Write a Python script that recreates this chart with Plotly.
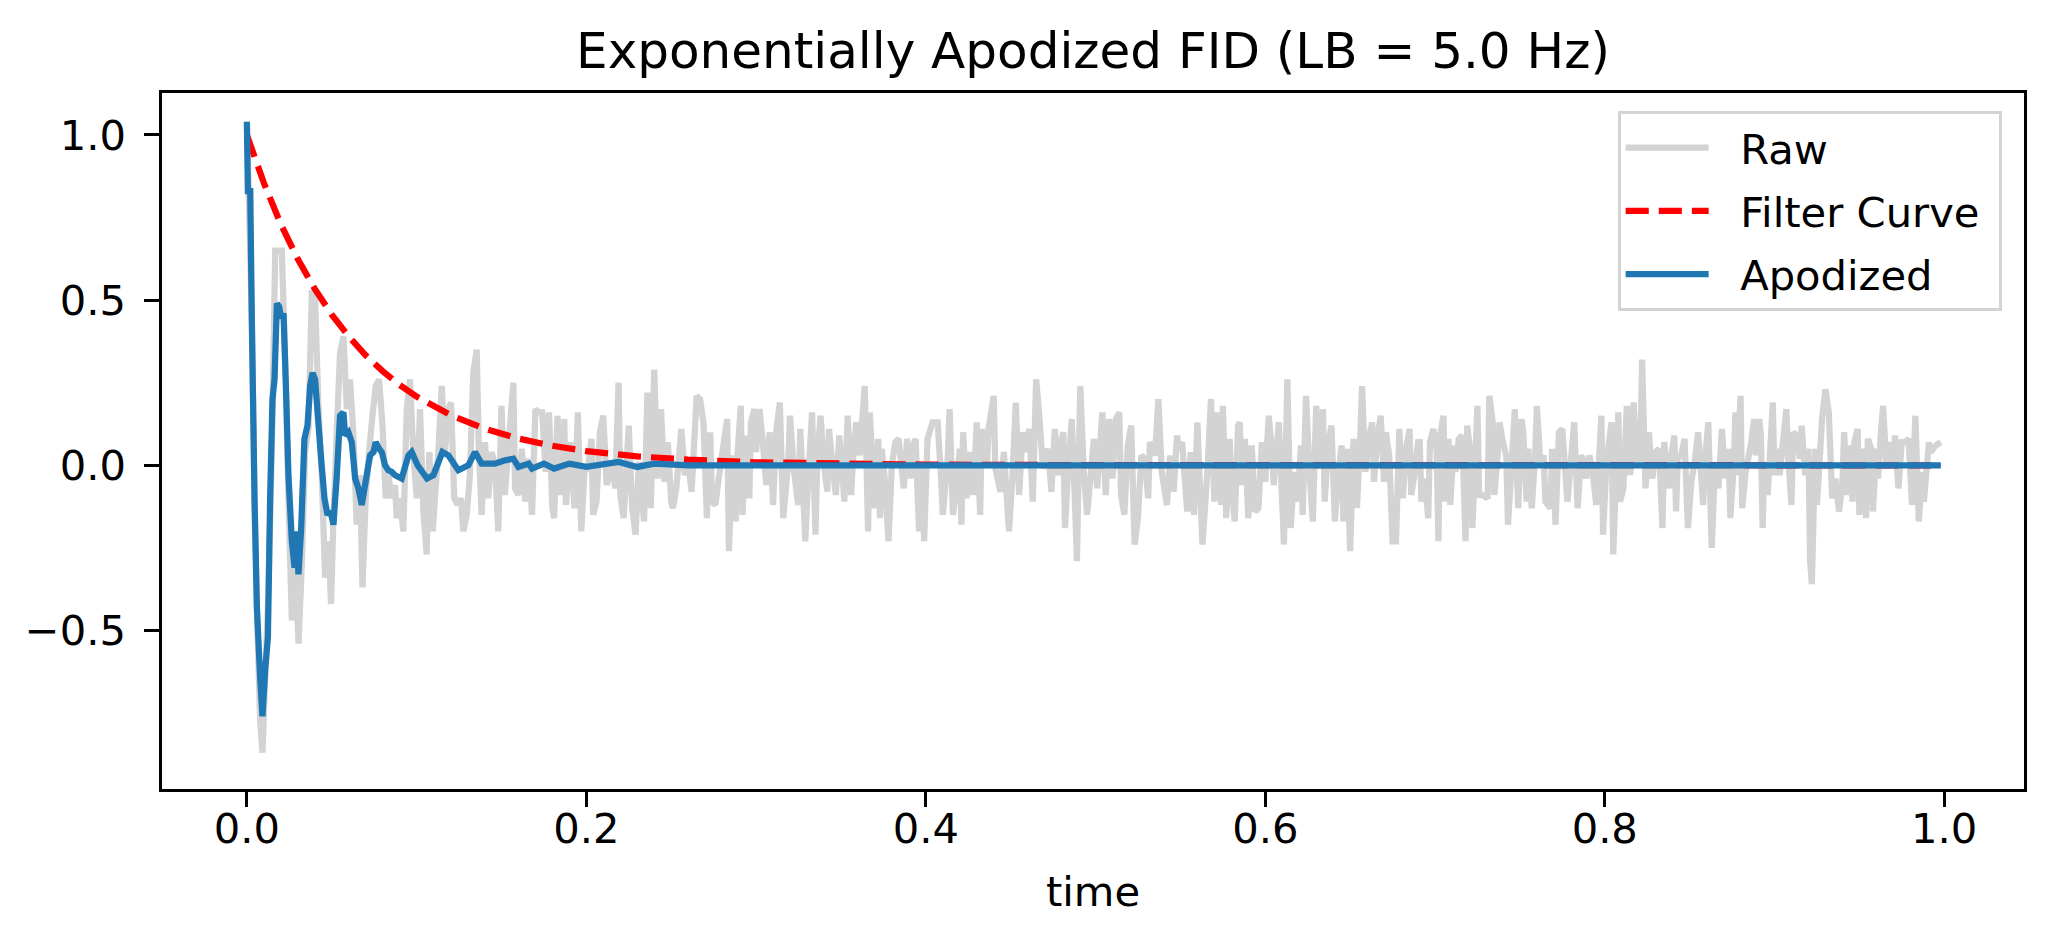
import plotly.graph_objects as go

# raw FID (gray)
raw_t_a = [0.0, 0.001, 0.0029, 0.0045, 0.0059, 0.0078, 0.0092, 0.0108, 0.0128, 0.0147,
           0.0167, 0.0186, 0.0206, 0.0226, 0.0245, 0.0265, 0.0284, 0.0304, 0.0324, 0.0343,
           0.0363, 0.0383, 0.0402, 0.0422, 0.0441, 0.0461, 0.0481, 0.0496, 0.051, 0.053,
           0.0549, 0.0569, 0.0589, 0.0608, 0.0628, 0.0647, 0.0667, 0.0681, 0.07, 0.072,
           0.074, 0.0759, 0.0779, 0.0799, 0.0818, 0.0834, 0.0853, 0.0873, 0.0883, 0.0902,
           0.0922, 0.0942, 0.0961, 0.0981, 0.1001, 0.102, 0.104, 0.1059, 0.1075, 0.1095,
           0.1108, 0.1128, 0.1148, 0.1167, 0.1187, 0.1203, 0.1222, 0.1242, 0.1262, 0.1275,
           0.1295, 0.1314, 0.1334, 0.1354, 0.1367, 0.1383, 0.1403, 0.1422, 0.1442, 0.1462, 0.1481]
raw_v_a = [1.04, 0.85, 0.45, -0.10, -0.43, -0.77, -0.87, -0.64, -0.37, 0.04,
           0.65, 0.65, 0.65, 0.31, -0.10, -0.47, -0.23, -0.54, -0.30, 0.04,
           0.11, 0.53, 0.50, 0.17, -0.03, -0.34, -0.23, -0.42, -0.16, 0.11,
           0.34, 0.39, 0.17, 0.26, 0.09, -0.18, -0.03, -0.37, -0.10, 0.04,
           0.15, 0.24, 0.26, 0.12, -0.10, -0.03, -0.10, -0.06, -0.16, -0.10,
           -0.20, 0.17, 0.26, 0.03, -0.10, 0.17, -0.14, -0.27, 0.04, -0.20,
           -0.10, 0.04, 0.24, 0.04, 0.17, 0.19, -0.10, -0.12, -0.10, -0.20,
           -0.15, -0.03, 0.28, 0.35, 0.04, -0.15, 0.07, -0.10, 0.04, 0.00, -0.20]

raw_t_b = [0.150, 0.152, 0.157, 0.158, 0.160, 0.162, 0.164, 0.166, 0.168, 0.170,
           0.172, 0.174, 0.176, 0.178, 0.180, 0.181, 0.183, 0.185, 0.187, 0.188,
           0.191, 0.193, 0.195, 0.197, 0.199, 0.201, 0.203, 0.204, 0.206, 0.208,
           0.210, 0.212, 0.215, 0.217, 0.219, 0.220, 0.222, 0.225, 0.227, 0.229,
           0.231, 0.234, 0.236, 0.238, 0.240, 0.242, 0.244, 0.246, 0.248, 0.250,
           0.251, 0.253, 0.256, 0.258, 0.260, 0.262, 0.265]
raw_v_b = [0.18, -0.09, 0.25, -0.07, -0.09, 0.05, -0.11, 0.02, -0.15, 0.17,
           0.16, 0.16, -0.02, 0.16, -0.13, -0.16, 0.15, -0.09, 0.14, -0.12,
           0.07, -0.13, 0.16, -0.20, -0.01, -0.01, 0.08, -0.15, -0.11, 0.10,
           0.15, -0.06, 0.01, -0.07, 0.25, -0.09, -0.16, 0.12, -0.13, -0.21,
           0.01, -0.17, 0.22, -0.13, 0.29, -0.04, 0.17, -0.05, 0.07, -0.11,
           -0.13, -0.07, 0.11, -0.03, 0.01, -0.08, 0.21]

raw_t_c = [0.267, 0.269, 0.271, 0.273, 0.274, 0.276, 0.278, 0.281, 0.283, 0.284,
           0.286, 0.288, 0.289, 0.291, 0.292, 0.294, 0.296, 0.297, 0.299, 0.300,
           0.302, 0.304, 0.306, 0.308, 0.310, 0.312, 0.314, 0.316, 0.319, 0.320,
           0.322, 0.324, 0.325, 0.326, 0.327, 0.329, 0.331, 0.333, 0.335, 0.336,
           0.338, 0.340, 0.342, 0.343, 0.345, 0.347, 0.349, 0.351, 0.352, 0.354,
           0.356, 0.357, 0.359, 0.361, 0.364, 0.366, 0.367, 0.370, 0.372]
raw_v_c = [0.20, 0.13, -0.16, 0.10, -0.11, -0.12, -0.04, 0.07, 0.14, -0.26,
           0.03, -0.17, 0.03, 0.18, -0.15, 0.09, -0.10, 0.13, 0.17, 0.04,
           0.17, 0.07, -0.06, 0.10, -0.12, 0.11, 0.19, -0.16, 0.01, 0.15,
           0.00, -0.09, -0.12, 0.11, 0.01, -0.23, -0.01, 0.16, -0.21, 0.01,
           0.15, 0.00, -0.08, 0.11, 0.00, -0.09, 0.09, -0.03, -0.11, 0.15,
           -0.09, 0.01, 0.13, 0.03, 0.24, -0.20, 0.16, -0.13, 0.08]

raw_t_d = [0.373, 0.374, 0.376, 0.378, 0.380, 0.382, 0.384, 0.387, 0.389, 0.391,
           0.392, 0.394, 0.396, 0.398, 0.399, 0.401, 0.404, 0.407, 0.409, 0.410,
           0.413, 0.414, 0.416, 0.418, 0.420, 0.421, 0.422, 0.424, 0.426, 0.428,
           0.430, 0.432, 0.433, 0.436, 0.437, 0.440, 0.441, 0.444, 0.446, 0.449,
           0.451, 0.453, 0.455, 0.457, 0.459, 0.461, 0.463, 0.465, 0.467, 0.469,
           0.472, 0.474, 0.476, 0.478]
raw_v_d = [-0.16, 0.05, -0.05, -0.23, 0.00, 0.07, 0.08, -0.07, 0.08, -0.04,
           0.05, 0.08, -0.20, 0.01, -0.23, 0.08, 0.13, 0.13, -0.04, -0.15,
           0.03, 0.17, -0.15, -0.07, 0.05, -0.18, 0.10, -0.10, 0.04, -0.09,
           0.13, -0.15, 0.11, 0.00, 0.11, 0.21, -0.01, -0.08, 0.04, -0.20,
           -0.04, 0.19, -0.09, 0.10, 0.04, 0.11, -0.11, 0.26, 0.14, -0.01,
           0.05, -0.08, 0.11, -0.03]

raw_t_e = [0.479, 0.481, 0.482, 0.484, 0.486, 0.488, 0.489, 0.491, 0.493, 0.495,
           0.497, 0.499, 0.501, 0.504, 0.506, 0.508, 0.510, 0.512, 0.514, 0.515,
           0.517, 0.519, 0.521, 0.523, 0.525, 0.527, 0.529, 0.531, 0.532, 0.535,
           0.537, 0.539, 0.542, 0.544, 0.546, 0.548, 0.549, 0.551, 0.554, 0.556,
           0.558, 0.560, 0.561, 0.563, 0.566, 0.568, 0.570, 0.572, 0.574, 0.575,
           0.577, 0.579, 0.580, 0.582, 0.584]
raw_v_e = [0.05, 0.10, -0.19, 0.00, 0.14, -0.13, -0.29, 0.24, -0.01, -0.15,
           -0.04, 0.08, -0.07, 0.16, -0.09, 0.14, -0.04, 0.14, 0.16, -0.09,
           -0.15, 0.06, 0.12, -0.24, -0.16, 0.03, 0.02, -0.10, 0.07, 0.03,
           0.20, -0.02, -0.12, 0.03, -0.08, 0.09, 0.05, 0.07, -0.14, 0.04,
           -0.15, 0.13, 0.00, -0.24, -0.01, 0.20, -0.11, 0.16, -0.12, 0.18,
           -0.16, 0.08, -0.05, -0.17, 0.12]

raw_t_f = [0.585, 0.586, 0.588, 0.590, 0.592, 0.594, 0.596, 0.598, 0.600, 0.602,
           0.604, 0.605, 0.608, 0.609, 0.611, 0.613, 0.615, 0.617, 0.619, 0.621,
           0.622, 0.624, 0.626, 0.628, 0.630, 0.632, 0.634, 0.635, 0.637, 0.639,
           0.641, 0.643, 0.645, 0.646, 0.648, 0.650, 0.652, 0.654, 0.656, 0.657,
           0.659, 0.661, 0.663, 0.664, 0.666, 0.668, 0.670, 0.671, 0.673, 0.675,
           0.677, 0.679, 0.681, 0.683, 0.685, 0.686, 0.688, 0.690]
raw_v_f = [0.13, -0.06, 0.08, -0.16, 0.06, -0.14, -0.13, 0.07, -0.05, 0.15,
           0.04, -0.06, 0.13, 0.01, -0.24, 0.26, -0.19, -0.02, -0.11, 0.06,
           -0.15, 0.21, -0.02, -0.17, 0.18, 0.01, 0.17, -0.11, 0.06, 0.12,
           -0.17, -0.03, 0.06, -0.17, 0.05, -0.26, 0.08, -0.13, 0.09, 0.24,
           -0.02, 0.08, 0.13, -0.05, 0.08, 0.15, -0.05, 0.10, 0.03, -0.23,
           -0.23, 0.11, -0.10, 0.05, 0.11, -0.09, -0.02, 0.07]

raw_t_g = [0.691, 0.692, 0.694, 0.696, 0.697, 0.699, 0.701, 0.702, 0.703, 0.705,
           0.706, 0.708, 0.709, 0.711, 0.712, 0.714, 0.716, 0.718, 0.719, 0.721,
           0.722, 0.725, 0.726, 0.728, 0.731, 0.732, 0.734, 0.735, 0.737, 0.738,
           0.740, 0.742, 0.743, 0.745, 0.747, 0.749, 0.751, 0.752, 0.754, 0.755,
           0.757, 0.759, 0.760, 0.762, 0.764, 0.765, 0.768, 0.769, 0.771, 0.773,
           0.775, 0.778, 0.780, 0.782, 0.784, 0.786, 0.787, 0.789, 0.791, 0.793,
           0.795]
raw_v_g = [0.07, -0.11, -0.04, -0.16, 0.07, 0.11, 0.04, -0.23, 0.09, 0.15,
           -0.11, 0.08, -0.12, 0.06, -0.02, 0.08, 0.09, -0.23, 0.12, 0.03,
           -0.19, 0.18, -0.09, -0.09, -0.10, 0.21, 0.13, -0.09, 0.04, 0.13,
           0.07, 0.03, -0.18, -0.01, 0.17, -0.13, 0.14, 0.10, -0.11, 0.05,
           -0.13, 0.03, 0.18, 0.01, 0.03, -0.11, -0.13, 0.05, -0.18, 0.10,
           0.11, -0.11, 0.01, 0.13, -0.13, 0.03, 0.02, -0.04, 0.03, -0.03,
           -0.12]

raw_t_h = [0.797, 0.798, 0.799, 0.801, 0.804, 0.805, 0.808, 0.809, 0.811, 0.813,
           0.815, 0.817, 0.819, 0.821, 0.822, 0.824, 0.826, 0.828, 0.830, 0.832,
           0.834, 0.835, 0.838, 0.839, 0.841, 0.842, 0.843, 0.845, 0.847, 0.849,
           0.851, 0.853, 0.855, 0.858, 0.859, 0.861, 0.863, 0.865, 0.867, 0.869,
           0.871, 0.873, 0.874, 0.876, 0.877, 0.878, 0.880, 0.881, 0.883, 0.886,
           0.888, 0.889, 0.891, 0.892, 0.893, 0.894, 0.896, 0.899, 0.900]
raw_v_h = [0.05, 0.15, -0.21, 0.01, 0.13, -0.27, 0.16, -0.11, -0.07, 0.18,
           -0.03, 0.19, 0.00, 0.03, 0.32, -0.07, 0.10, -0.04, 0.04, 0.05,
           -0.19, 0.07, -0.07, 0.02, 0.09, -0.14, 0.02, 0.03, 0.08, -0.19,
           -0.05, 0.01, 0.10, -0.12, 0.01, 0.13, -0.25, 0.00, -0.07, 0.11,
           -0.04, 0.05, -0.16, 0.00, 0.16, -0.03, 0.21, -0.13, -0.02, 0.06,
           0.14, 0.03, 0.14, 0.09, -0.19, 0.01, -0.09, 0.19, -0.03]

raw_t_i = [0.902, 0.903, 0.905, 0.907, 0.908, 0.910, 0.911, 0.913, 0.915, 0.916,
           0.918, 0.920, 0.921, 0.922, 0.924, 0.925, 0.927, 0.928, 0.930, 0.932,
           0.934, 0.936, 0.938, 0.940, 0.941, 0.943, 0.944, 0.946, 0.947, 0.949,
           0.950, 0.952, 0.954, 0.955, 0.957, 0.958, 0.960, 0.961, 0.963, 0.964,
           0.966, 0.968, 0.970, 0.971, 0.973, 0.975, 0.977, 0.979, 0.981, 0.983,
           0.985, 0.987, 0.988, 0.990, 0.991, 0.992, 0.995, 0.998]
raw_v_i = [0.05, -0.03, 0.07, 0.17, 0.03, -0.12, 0.10, 0.09, 0.02, 0.12,
           -0.03, 0.05, -0.29, -0.36, 0.05, -0.12, 0.05, 0.14, 0.23, 0.16,
           -0.10, -0.04, -0.14, -0.06, 0.10, -0.09, 0.06, -0.11, 0.07, 0.11,
           -0.15, 0.05, -0.16, 0.08, 0.05, -0.14, 0.05, -0.04, 0.12, 0.18,
           -0.01, 0.07, 0.00, 0.09, -0.07, 0.07, 0.07, 0.08, -0.12, 0.15,
           -0.17, -0.02, -0.11, 0.01, 0.07, 0.04, 0.06, 0.07]

# exponential filter curve (red dashed)
filt_t = [0.0, 0.01, 0.02, 0.03, 0.04, 0.05, 0.06, 0.07, 0.08, 0.09,
          0.10, 0.12, 0.14, 0.16, 0.18, 0.20, 0.23, 0.26, 0.30, 0.35,
          0.40, 0.50, 0.60, 0.80, 0.998]
filt_v = [1.0, 0.855, 0.730, 0.624, 0.534, 0.456, 0.390, 0.333, 0.285, 0.243,
          0.208, 0.152, 0.111, 0.081, 0.059, 0.043, 0.027, 0.017, 0.009, 0.004,
          0.002, 0.0004, 0.0001, 0.0, 0.0]

# apodized FID (blue)
apod_t = [0.0, 0.0006, 0.002, 0.0029, 0.0045, 0.0059, 0.0078, 0.0092, 0.0108, 0.0124,
          0.0137, 0.0151, 0.0163, 0.0177, 0.019, 0.0202, 0.0216, 0.023, 0.0245, 0.0265,
          0.0281, 0.029, 0.0304, 0.032, 0.0339, 0.0357, 0.0373, 0.0387, 0.0402, 0.0418,
          0.0436, 0.0457, 0.0475, 0.0494, 0.051, 0.053, 0.0549, 0.0569, 0.0579, 0.0598,
          0.0618, 0.0638, 0.0657, 0.0677, 0.0693, 0.0706, 0.0726, 0.0746, 0.0759, 0.0779,
          0.0795, 0.0814, 0.0834, 0.0853, 0.0873, 0.0912, 0.0952, 0.0971, 0.1006, 0.1061,
          0.1099, 0.1152, 0.1187, 0.1246, 0.1305, 0.1344, 0.1383, 0.1462, 0.1521, 0.157,
          0.160, 0.166, 0.168, 0.175, 0.181, 0.190, 0.200, 0.219, 0.230, 0.240,
          0.26, 0.30, 0.998]
apod_v = [1.04, 0.83, 0.83, 0.45, -0.10, -0.43, -0.64, -0.76, -0.62, -0.52,
          -0.10, 0.20, 0.26, 0.49, 0.48, 0.445, 0.46, 0.24, -0.03, -0.23,
          -0.31, -0.20, -0.33, -0.19, 0.08, 0.12, 0.24, 0.28, 0.26, 0.15,
          0.03, -0.10, -0.15, -0.14, -0.18, -0.03, 0.15, 0.16, 0.09, 0.10,
          0.07, -0.04, -0.07, -0.12, -0.07, -0.03, 0.03, 0.04, 0.07, 0.05,
          0.04, 0.00, -0.015, -0.02, -0.03, -0.04, 0.03, 0.04, 0.00, -0.04,
          -0.03, 0.04, 0.03, -0.015, 0.00, 0.04, 0.005, 0.005, 0.015, 0.02,
          -0.005, 0.005, -0.01, 0.005, -0.01, 0.005, -0.005, 0.01, -0.005, 0.005,
          0.0, 0.0, 0.0]

raw_t = raw_t_a + raw_t_b + raw_t_c + raw_t_d + raw_t_e + raw_t_f + raw_t_g + raw_t_h + raw_t_i
raw_v = raw_v_a + raw_v_b + raw_v_c + raw_v_d + raw_v_e + raw_v_f + raw_v_g + raw_v_h + raw_v_i

font = "DejaVu Sans"
pt = 300 / 72  # px per point (figure saved at 300 dpi)
gap = '\u00a0\u00a0'  # space between legend handle and label


def label(s):
    return gap + s + '\u00a0'


fig = go.Figure()

fig.add_trace(go.Scatter(x=raw_t, y=raw_v, mode='lines', name=label('Raw'),
                         legendgroup='a',
                         line=dict(color='lightgray', width=1.5 * pt, simplify=False)))
fig.add_trace(go.Scatter(x=filt_t, y=filt_v, mode='lines', name=label('Filter Curve'),
                         legendgroup='b',
                         line=dict(color='red', width=1.5 * pt,
                                   dash=f'{5.55 * pt:.1f}px,{2.4 * pt:.1f}px')))
fig.add_trace(go.Scatter(x=apod_t, y=apod_v, mode='lines', name=label('Apodized'),
                         legendgroup='c',
                         line=dict(color='#1f77b4', width=1.5 * pt, simplify=False)))

axis_style = dict(
    showline=True, linecolor='black', linewidth=0.8 * pt, mirror=True,
    ticks='outside', ticklen=3.5 * pt, tickwidth=0.8 * pt, tickcolor='black',
    showgrid=False, zeroline=False, tickformat='.1f',
    tickfont=dict(family=font, size=10 * pt, color='black'),
)

fig.update_layout(
    width=2051, height=945, autosize=False,
    margin=dict(l=162, r=27, t=93, b=156),
    paper_bgcolor='white', plot_bgcolor='white',
    title=dict(text='Exponentially Apodized FID (LB = 5.0 Hz)',
               x=0.5, xref='paper', xanchor='center',
               y=1, yref='paper', yanchor='bottom', pad=dict(b=6 * pt),
               font=dict(family=font, size=12 * pt, color='black')),
    xaxis=dict(axis_style, range=[-0.05, 1.047], ticklabelstandoff=-14,
               tickvals=[0.0, 0.2, 0.4, 0.6, 0.8, 1.0],
               title=dict(text='time', standoff=26,
                          font=dict(family=font, size=10 * pt, color='black'))),
    yaxis=dict(axis_style, range=[-0.98, 1.127], ticklabelstandoff=10,
               tickvals=[-0.5, 0.0, 0.5, 1.0]),
    showlegend=True,
    legend=dict(x=0.988, y=0.974, xanchor='right', yanchor='top',
                bgcolor='rgba(255,255,255,0.8)', bordercolor='#d4d4d4', borderwidth=3,
                font=dict(family=font, size=10 * pt, color='black'),
                itemwidth=83, tracegroupgap=6),
)

fig.write_html("out.html", config={'displayModeBar': False},
               post_script="document.body.style.margin='0';document.body.style.overflow='hidden';")
